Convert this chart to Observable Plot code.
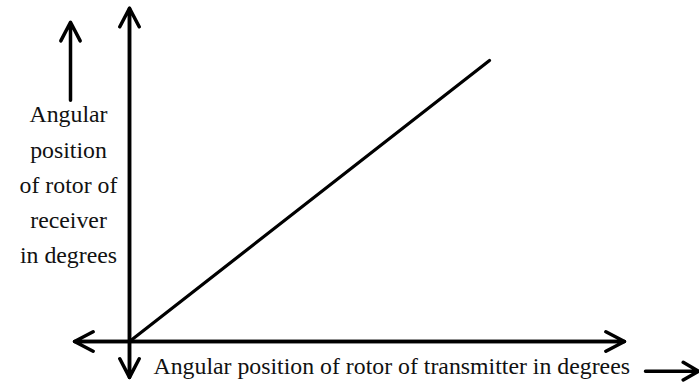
<!DOCTYPE html>
<html>
<head>
<meta charset="utf-8">
<script src="https://cdn.jsdelivr.net/npm/d3@7"></script>
<script src="https://cdn.jsdelivr.net/npm/@observablehq/plot@0.6"></script>
<style>
  html, body { margin: 0; padding: 0; background: #fff; }
  #chart svg { display: block; }
</style>
</head>
<body>
<div id="chart"></div>
<script>
// Data: angular position of transmitter rotor vs receiver rotor (degrees)
const transmitterDeg = [0, 360];
const receiverDeg = [0, 360];

// Axis extents (degrees) for the double-headed axis arrows
const xAxisExtent = [-55, 495];
const yAxisExtent = [-46, 427];

// Label texts
const yLabel = "Angular\nposition\nof rotor of\nreceiver\nin degrees";
const xLabel = "Angular position of rotor of transmitter in degrees";

// Annotation anchors (degrees)
const yLabelAnchor = {x: -61, y: 205};
const yHintArrow = {x: -59, y1: 309, y2: 409};
const xLabelAnchor = {x: 24, y: -31.5};
const xHintArrow = {x1: 516, x2: 569, y: -38};

const line = transmitterDeg.map((t, i) => ({t, r: receiverDeg[i]}));
const axes = [
  {x1: xAxisExtent[0], y1: 0, x2: xAxisExtent[1], y2: 0},
  {x1: xAxisExtent[1], y1: 0, x2: xAxisExtent[0], y2: 0},
  {x1: 0, y1: yAxisExtent[0], x2: 0, y2: yAxisExtent[1]},
  {x1: 0, y1: yAxisExtent[1], x2: 0, y2: yAxisExtent[0]}
];

const font = "Liberation Serif";

const chart = Plot.plot({
  width: 699,
  height: 387,
  margin: 0,
  style: {background: "#fff", fontFamily: font},
  x: {domain: [-129, 570], range: [0, 699], axis: null},
  y: {domain: [-58.93, 436.85], range: [387, 0], axis: null},
  marks: [
    Plot.arrow(axes, {
      x1: "x1", y1: "y1", x2: "x2", y2: "y2",
      stroke: "#000", strokeWidth: 3.5, headLength: 9, headAngle: 55
    }),
    Plot.line(line, {x: "t", y: "r", stroke: "#000", strokeWidth: 3.2}),
    Plot.arrow([yHintArrow], {
      x1: "x", y1: "y1", x2: "x", y2: "y2",
      stroke: "#000", strokeWidth: 3.5, headLength: 9, headAngle: 55
    }),
    Plot.arrow([xHintArrow], {
      x1: "x1", y1: "y", x2: "x2", y2: "y",
      stroke: "#000", strokeWidth: 3.5, headLength: 8, headAngle: 60
    }),
    Plot.text([yLabelAnchor], {
      x: "x", y: "y", text: () => yLabel,
      textAnchor: "middle", lineAnchor: "middle", lineHeight: 1.48,
      fontSize: 23.8, fill: "#111", fontFamily: font
    }),
    Plot.text([xLabelAnchor], {
      x: "x", y: "y", text: () => xLabel,
      textAnchor: "start", lineAnchor: "middle",
      fontSize: 23.8, fill: "#111", fontFamily: font
    })
  ]
});
document.getElementById("chart").appendChild(chart);
</script>
</body>
</html>
